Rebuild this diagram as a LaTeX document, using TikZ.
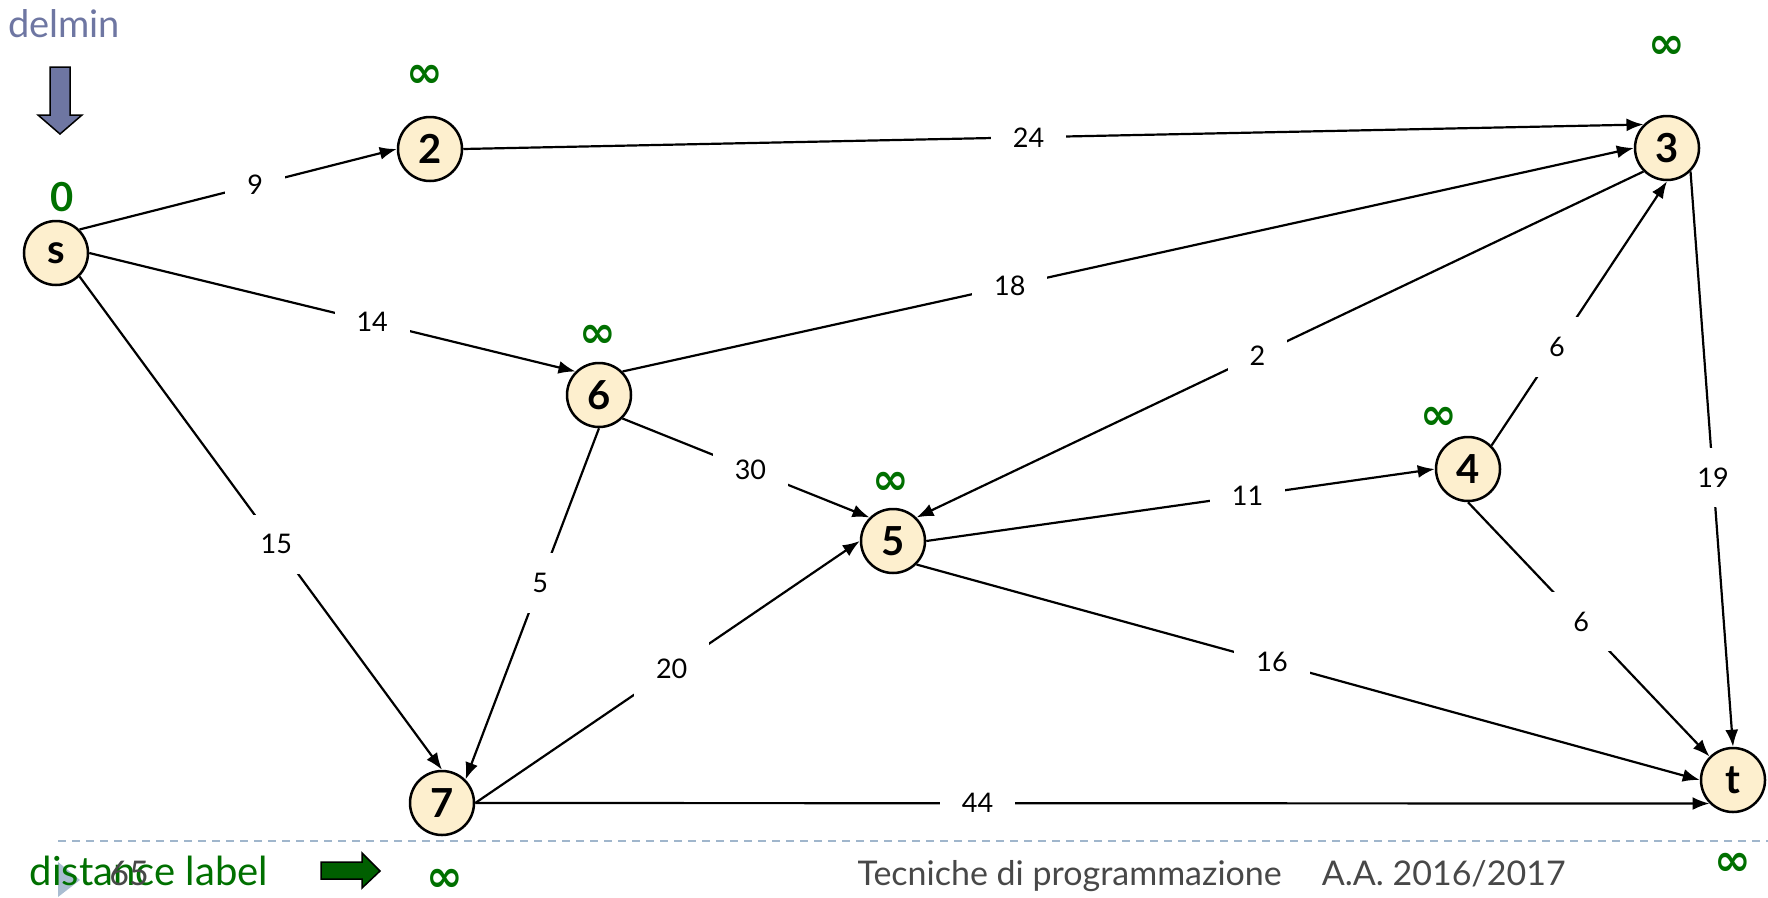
\documentclass[tikz,border=0pt]{standalone}
\usepackage{fontspec}
\setmainfont{Lato}
\newfontfamily\dejavu{DejaVu Sans}
\usetikzlibrary{arrows.meta}
\definecolor{nodefill}{HTML}{FDEFCE}
\definecolor{dgreen}{HTML}{007000}
\definecolor{slate}{HTML}{6E76A2}
\definecolor{dashblue}{HTML}{A0B6CC}
\definecolor{footgray}{HTML}{484848}
\begin{document}
\begin{tikzpicture}[x=1pt,y=-1pt,
  vert/.style={circle,draw,line width=2.5pt,fill=nodefill,minimum size=64pt,inner sep=0pt,font=\fontsize{40}{42}\selectfont\bfseries},
  edge/.style={line width=2.2pt,-{Latex[length=17pt,width=13pt]}},
  lbl/.style={fill=white,inner xsep=22pt,inner ysep=20pt,font=\fontsize{27}{29}\selectfont},
  dist/.style={text=dgreen,font=\dejavu\bfseries\fontsize{44}{44}\selectfont,inner sep=0pt}]
\useasboundingbox (0,0) rectangle (1768,897);
% nodes
\node[vert] (s) at (56,253) {s};
\node[vert] (n2) at (430,149) {2};
\node[vert] (n3) at (1667,148) {3};
\node[vert] (n6) at (599,395) {6};
\node[vert] (n5) at (893,541) {5};
\node[vert] (n4) at (1468,469) {4};
\node[vert] (n7) at (442,803) {7};
\node[vert] (t) at (1733,780) {t};
% edges
\draw[edge] (s.north east) -- node[lbl,pos=0.554]{9} (n2.west);
\draw[edge] (n2.east) -- node[lbl,pos=0.479]{24} (n3.north west);
\draw[edge] (s.east) -- node[lbl,pos=0.582]{14} (n6.north west);
\draw[edge] (s.south east) -- node[lbl,pos=0.543]{15} (n7.north);
\draw[edge] (n6.north east) -- node[lbl,pos=0.383]{18} (n3.west);
\draw[edge] (n6.south east) -- node[lbl,pos=0.518]{30} (n5.north west);
\draw[edge] (n6.south) -- node[lbl,pos=0.441]{5} (n7.north east);
\draw[edge] (n3.south west) -- node[lbl,pos=0.531]{2} (n5.north east);
\draw[edge] (n4.north east) -- node[lbl,pos=0.373]{6} (n3.south);
\draw[edge] (n3.south east) -- node[lbl,pos=0.532]{19} (t.north);
\draw[edge] (n5.east) -- node[lbl,pos=0.632]{11} (n4.west);
\draw[edge] (n4.south) -- node[lbl,pos=0.469]{6} (t.north west);
\draw[edge] (n5.south east) -- node[lbl,pos=0.454]{16} (t.west);
\draw[edge] (n7.east) -- node[lbl,pos=0.511]{20} (n5.west);
\draw[edge] (n7.east) -- node[lbl,pos=0.407]{44} (t.south west);
% distance labels
\node[text=dgreen,font=\fontsize{40}{42}\selectfont\bfseries] (d0) at (62,197) {0};
\node[dist] (d2) at (425,76) {∞};
\node[dist] (d3) at (1667,47) {∞};
\node[dist] (d6) at (598,336) {∞};
\node[dist] (d5) at (891,483) {∞};
\node[dist] (d4) at (1439,418) {∞};
\node[dist] (d7) at (445,880) {∞};
\node[dist] (dt) at (1733,864) {∞};
% delmin
\node[text=slate,font=\fontsize{38}{40}\selectfont,anchor=base] (delmin) at (64,37) {delmin};
\draw[line width=1.5pt,fill=slate] (50,67) -- (70,67) -- (70,115) -- (82,115) -- (60,134) -- (38,115) -- (50,115) -- cycle;
% footer
\draw[dashblue,line width=1.5pt,dash pattern=on 8pt off 6pt] (58,841) -- (1768,841);
\fill[dashblue!90] (58,862) -- (80,880) -- (58,897) -- cycle;
\node[text=dgreen,font=\fontsize{40}{42}\selectfont,anchor=base] (dl) at (149,885) {distance label};
\node[text=footgray,font=\fontsize{34}{36}\selectfont,anchor=base] (pg) at (129,885) {65};
\draw[line width=1.5pt,fill=dgreen!85!black] (321,862) -- (362,862) -- (362,853) -- (380,871) -- (362,888) -- (362,879) -- (321,879) -- cycle;
\node[text=footgray,font=\fontsize{34}{36}\selectfont,anchor=base west] (foot) at (854,885) {Tecniche di programmazione\hspace{40pt}A.A. 2016/2017};
\end{tikzpicture}
\end{document}
